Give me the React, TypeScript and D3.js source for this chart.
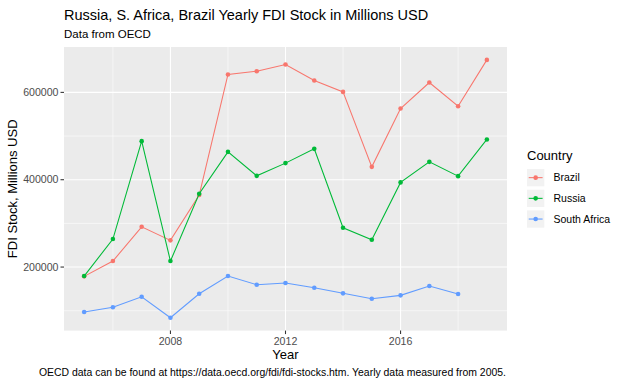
import React from "react";
import * as d3 from "d3";

const years = [2005, 2006, 2007, 2008, 2009, 2010, 2011, 2012, 2013, 2014, 2015, 2016, 2017, 2018, 2019];
const brazil = [178700, 213700, 292200, 261100, 365000, 641000, 648500, 663800, 627200, 601100, 429500, 563100, 622600, 568400, 674400];
const russia = [179400, 264100, 488300, 213700, 367700, 463800, 408900, 438000, 470700, 289900, 262500, 393800, 440900, 408200, 492200];
const southAfrica = [97000, 107800, 132000, 84000, 138900, 179400, 159500, 163400, 152600, 139800, 127500, 135200, 156500, 138200, null];
const countries = ["Brazil", "Russia", "South Africa"];
const colors = ["#F8766D", "#00BA38", "#619CFF"];
const xTicks = [2008, 2012, 2016];
const xMinor = [2006, 2010, 2014, 2018];
const yTicks = [200000, 400000, 600000];
const yMinor = [100000, 300000, 500000];

const W = 624, H = 385;
const P = { left: 64, right: 507, top: 47, bottom: 330.6 };
const FONT = "'Liberation Sans', Arial, sans-serif";

export default function App() {
  const series = [brazil, russia, southAfrica];
  const allVals = series.flat().filter((v) => v != null) as number[];
  const yMin = d3.min(allVals)!, yMax = d3.max(allVals)!;
  const yPad = (yMax - yMin) * 0.05;
  const xPad = (years[years.length - 1] - years[0]) * 0.05;
  const x = d3.scaleLinear().domain([years[0] - xPad, years[years.length - 1] + xPad]).range([P.left, P.right]);
  const y = d3.scaleLinear().domain([yMin - yPad, yMax + yPad]).range([P.bottom, P.top]);
  const line = d3.line<[number, number | null]>()
    .defined((d) => d[1] != null)
    .x((d) => x(d[0]))
    .y((d) => y(d[1] as number));

  const legendX = 527, legendY0 = 169, keyH = 20.7;

  return (
    <svg width={W} height={H} style={{ position: "absolute", left: 0, top: 0, display: "block" }} fontFamily={FONT}>
      <rect width={W} height={H} fill="#fff" />
      <text x={64} y={19.5} fontSize={14.5} fill="#000">Russia, S. Africa, Brazil Yearly FDI Stock in Millions USD</text>
      <text x={64} y={37.5} fontSize={11.5} fill="#000">Data from OECD</text>

      <rect x={P.left} y={P.top} width={P.right - P.left} height={P.bottom - P.top} fill="#EBEBEB" />
      {yMinor.map((v) => (
        <line key={"ym" + v} x1={P.left} x2={P.right} y1={y(v)} y2={y(v)} stroke="#fff" strokeWidth={0.55} />
      ))}
      {xMinor.map((v) => (
        <line key={"xm" + v} y1={P.top} y2={P.bottom} x1={x(v)} x2={x(v)} stroke="#fff" strokeWidth={0.55} />
      ))}
      {yTicks.map((v) => (
        <line key={"y" + v} x1={P.left} x2={P.right} y1={y(v)} y2={y(v)} stroke="#fff" strokeWidth={1.07} />
      ))}
      {xTicks.map((v) => (
        <line key={"x" + v} y1={P.top} y2={P.bottom} x1={x(v)} x2={x(v)} stroke="#fff" strokeWidth={1.07} />
      ))}

      {series.map((s, i) => {
        const pts = years.map((yr, j) => [yr, s[j]] as [number, number | null]);
        return (
          <g key={countries[i]}>
            <path d={line(pts) || ""} fill="none" stroke={colors[i]} strokeWidth={1.07} />
            {pts.filter((p) => p[1] != null).map((p) => (
              <circle key={p[0]} cx={x(p[0])} cy={y(p[1] as number)} r={2.3} fill={colors[i]} />
            ))}
          </g>
        );
      })}

      {yTicks.map((v) => (
        <g key={"yt" + v}>
          <line x1={P.left - 3.5} x2={P.left} y1={y(v)} y2={y(v)} stroke="#333" strokeWidth={1.07} />
          <text x={P.left - 5.5} y={y(v)} dy="0.35em" textAnchor="end" fontSize={10.6} fill="#4D4D4D">{v}</text>
        </g>
      ))}
      {xTicks.map((v) => (
        <g key={"xt" + v}>
          <line y1={P.bottom} y2={P.bottom + 3.5} x1={x(v)} x2={x(v)} stroke="#333" strokeWidth={1.07} />
          <text x={x(v)} y={345} textAnchor="middle" fontSize={10.6} fill="#4D4D4D">{v}</text>
        </g>
      ))}

      <text x={(P.left + P.right) / 2} y={359} textAnchor="middle" fontSize={13} fill="#000">Year</text>
      <text transform={`translate(16.5,${(P.top + P.bottom) / 2}) rotate(-90)`} textAnchor="middle" fontSize={13} fill="#000">FDI Stock, Millions USD</text>

      <text x={legendX} y={160} fontSize={13} fill="#000">Country</text>
      {countries.map((c, i) => {
        const ky = legendY0 + i * keyH;
        return (
          <g key={"lg" + c}>
            <rect x={legendX} y={ky} width={17.3} height={17.3} fill="#F2F2F2" />
            <line x1={legendX + 1.7} x2={legendX + 15.6} y1={ky + 8.65} y2={ky + 8.65} stroke={colors[i]} strokeWidth={1.07} />
            <circle cx={legendX + 8.65} cy={ky + 8.65} r={2.3} fill={colors[i]} />
            <text x={553.5} y={ky + 8.65} dy="0.35em" fontSize={10.5} fill="#000">{c}</text>
          </g>
        );
      })}

      <text x={506} y={376} textAnchor="end" fontSize={10.45} fill="#000">OECD data can be found at https://data.oecd.org/fdi/fdi-stocks.htm. Yearly data measured from 2005.</text>
    </svg>
  );
}
